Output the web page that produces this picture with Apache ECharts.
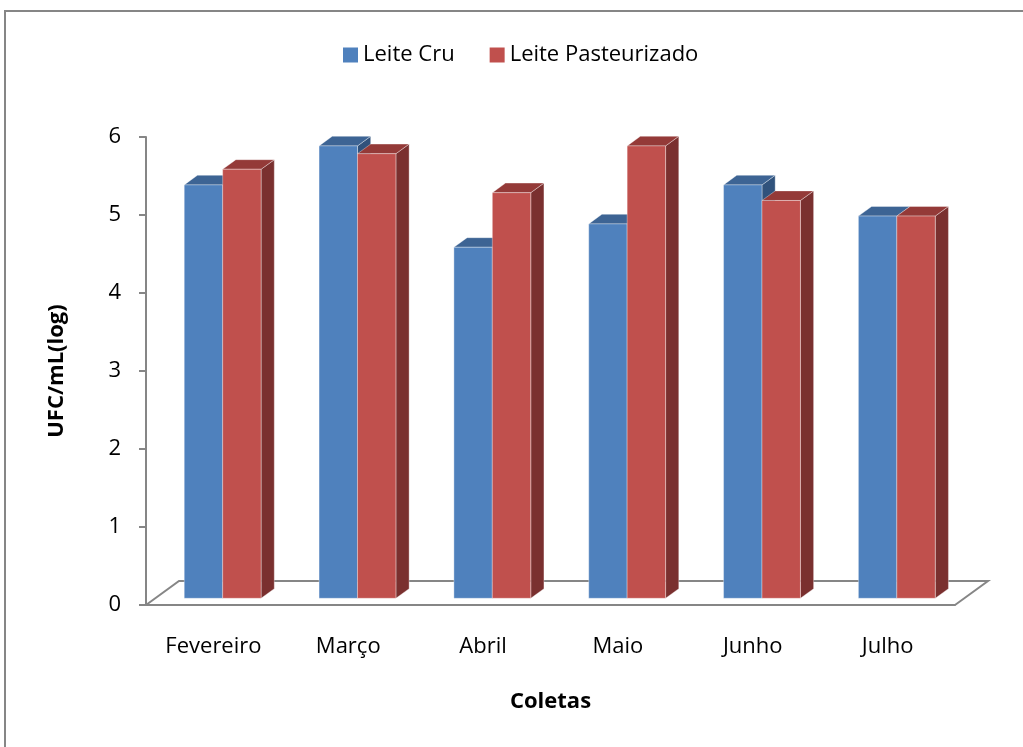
<!DOCTYPE html>
<html>
<head>
<meta charset="utf-8">
<script src="https://cdn.jsdelivr.net/npm/echarts@6/dist/echarts.min.js"></script>
<style>
  html, body { margin: 0; padding: 0; background: #fff; }
  #chart { width: 1023px; height: 747px; }
</style>
</head>
<body>
<div id="chart"></div>
<script>
// Contagem em UFC/mL (log) por coleta
const categories = ['Fevereiro', 'Março', 'Abril', 'Maio', 'Junho', 'Julho'];
const leiteCru = [5.3, 5.8, 4.5, 4.8, 5.3, 4.9];
const leitePasteurizado = [5.5, 5.7, 5.2, 5.8, 5.1, 4.9];
const seriesNames = ['Leite Cru', 'Leite Pasteurizado'];

// Pseudo-3D look: floor depth vector and where the bars sit inside it
const DEPTH_DX = 33, DEPTH_DY = -24;
const BAR_FRONT = 0.28, BAR_BACK = 0.68;
const BAR_FRAC = 0.285;

const palette = [
  { front: '#4F81BD', top: '#3D6494', side: '#30527C' },
  { front: '#C0504D', top: '#943A38', side: '#7A302F' }
];
const EDGE = 'rgba(255,255,255,0.35)';
const AXIS_GREY = '#868686';
const FONT = 'Open Sans';
const FS = 22;

function barRenderer(slot) {
  const c = palette[slot];
  return function (params, api) {
    const i = api.value(0);
    const v = api.value(1);
    const bw = api.size([1, 0])[0];
    const barW = bw * BAR_FRAC;
    const center = api.coord([i, 0])[0];
    const fx = DEPTH_DX * BAR_FRONT, fy = DEPTH_DY * BAR_FRONT;
    const ddx = DEPTH_DX * (BAR_BACK - BAR_FRONT), ddy = DEPTH_DY * (BAR_BACK - BAR_FRONT);
    const x0 = center - barW + slot * barW + fx;
    const x1 = x0 + barW;
    const yBase = api.coord([i, 0])[1] + fy;
    const yTop = api.coord([i, v])[1] + fy;
    return {
      type: 'group',
      children: [
        { type: 'polygon', shape: { points: [[x1, yTop], [x1 + ddx, yTop + ddy], [x1 + ddx, yBase + ddy], [x1, yBase]] },
          style: { fill: c.side, stroke: EDGE, lineWidth: 1 } },
        { type: 'polygon', shape: { points: [[x0, yTop], [x1, yTop], [x1 + ddx, yTop + ddy], [x0 + ddx, yTop + ddy]] },
          style: { fill: c.top, stroke: EDGE, lineWidth: 1 } },
        { type: 'rect', shape: { x: x0, y: yTop, width: barW, height: yBase - yTop },
          style: { fill: c.front, stroke: EDGE, lineWidth: 1 } }
      ]
    };
  };
}

function floorRenderer(params, api) {
  const cs = params.coordSys;
  const xl = cs.x, xr = cs.x + cs.width, yb = cs.y + cs.height;
  return {
    type: 'polyline',
    shape: { points: [[xl, yb], [xl + DEPTH_DX, yb + DEPTH_DY], [xr + DEPTH_DX, yb + DEPTH_DY], [xr, yb]] },
    style: { stroke: AXIS_GREY, lineWidth: 2, fill: null }
  };
}

const chart = echarts.init(document.getElementById('chart'), null, { renderer: 'canvas' });
chart.setOption({
  animation: false,
  backgroundColor: '#ffffff',
  textStyle: { fontFamily: FONT },
  graphic: [{
    type: 'rect', silent: true, z: -10,
    shape: { x: 5, y: 11, width: 1040, height: 760 },
    style: { fill: null, stroke: AXIS_GREY, lineWidth: 2 }
  }],
  legend: {
    data: seriesNames,
    top: 39,
    left: 338,
    icon: 'rect',
    itemWidth: 15,
    itemHeight: 15,
    itemGap: 35,
    textStyle: { fontFamily: FONT, fontSize: FS, color: '#000' }
  },
  grid: { left: 146, right: 68, top: 137, bottom: 142, containLabel: false },
  xAxis: {
    type: 'category',
    data: categories,
    name: 'Coletas',
    nameLocation: 'middle',
    nameGap: 86,
    nameTextStyle: { fontFamily: FONT, fontSize: FS, fontWeight: 'bold', color: '#000' },
    axisLine: { lineStyle: { color: AXIS_GREY, width: 2 } },
    axisTick: { length: 7, lineStyle: { color: AXIS_GREY, width: 2 } },
    axisLabel: { margin: 31, fontFamily: FONT, fontSize: FS, color: '#000' }
  },
  yAxis: {
    type: 'value',
    min: 0, max: 6, interval: 1,
    name: 'UFC/mL(log)',
    nameLocation: 'middle',
    nameGap: 78,
    nameTextStyle: { fontFamily: FONT, fontSize: FS, fontWeight: 'bold', color: '#000' },
    axisLine: { show: true, lineStyle: { color: AXIS_GREY, width: 2 } },
    axisTick: { show: true, length: 7, lineStyle: { color: AXIS_GREY, width: 2 } },
    axisLabel: { margin: 25, fontFamily: FONT, fontSize: FS, color: '#000' },
    splitLine: { show: false }
  },
  series: [
    { name: 'floor', type: 'custom', silent: true, z: 1, renderItem: floorRenderer, data: [[0, 0]], encode: { x: 0, y: 1 } },
    { name: seriesNames[0], type: 'custom', z: 2, renderItem: barRenderer(0), itemStyle: { color: palette[0].front },
      data: leiteCru.map((v, i) => [i, v]), encode: { x: 0, y: 1 } },
    { name: seriesNames[1], type: 'custom', z: 3, renderItem: barRenderer(1), itemStyle: { color: palette[1].front },
      data: leitePasteurizado.map((v, i) => [i, v]), encode: { x: 0, y: 1 } }
  ]
});
</script>
</body>
</html>
